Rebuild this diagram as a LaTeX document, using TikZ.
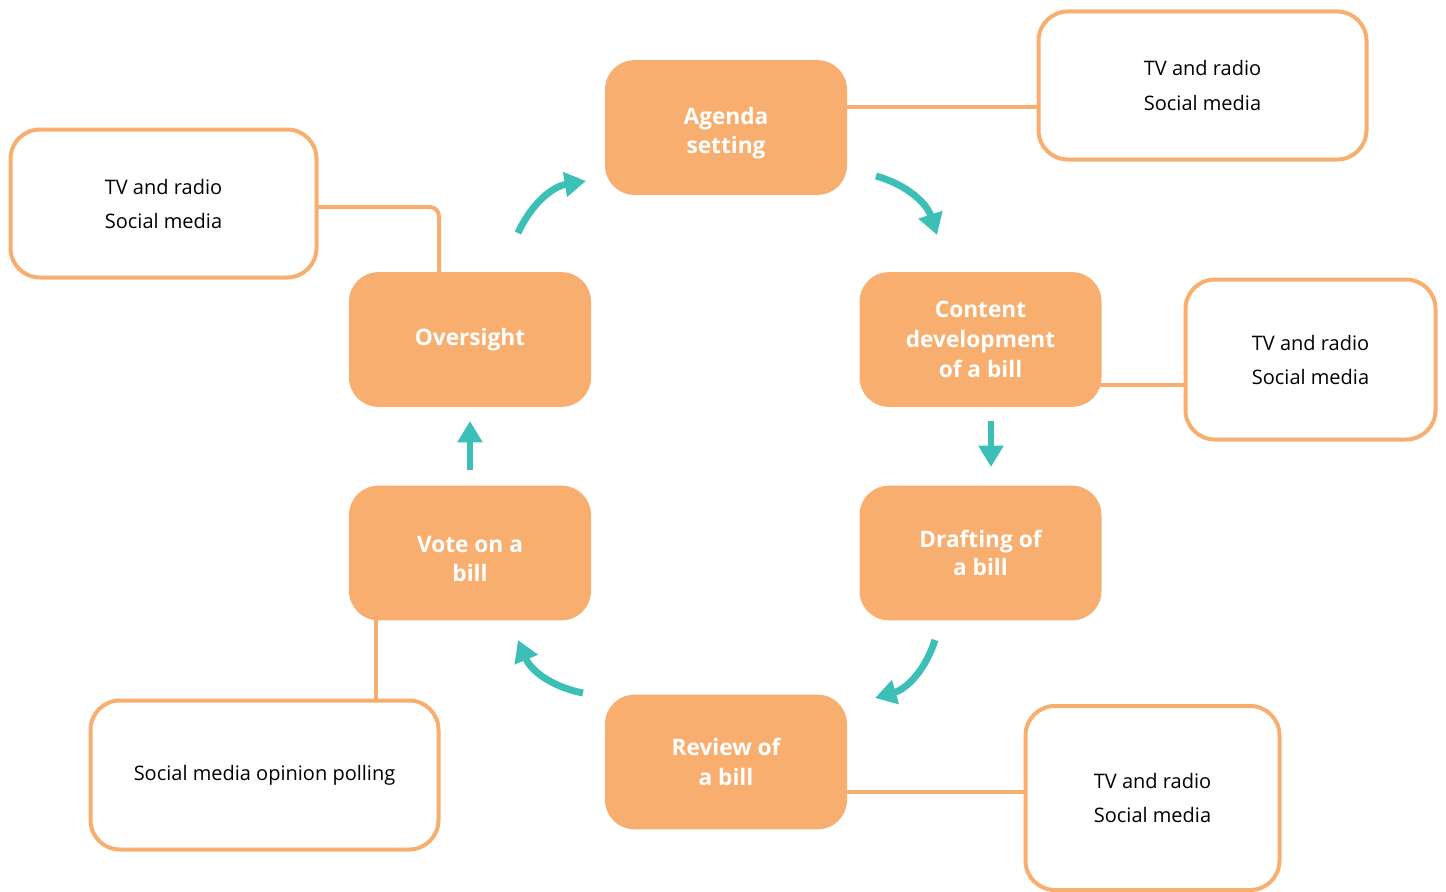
\documentclass[tikz,border=0pt]{standalone}
\usepackage{fontspec}
\setmainfont{Open Sans}
\usetikzlibrary{arrows.meta,backgrounds}
\definecolor{peach}{HTML}{F8AE6F}
\definecolor{teal}{HTML}{3BBFB6}
\tikzset{
  stage/.style={rounded corners=22pt, fill=peach, draw=none, text=white,
    minimum width=181.5pt, minimum height=101pt, align=center,
    font=\fontsize{17}{21.5}\selectfont\bfseries},
  media/.style={rounded corners=22pt, draw=peach, line width=3pt, fill=white,
    align=center, font=\fontsize{15}{25.5}\selectfont},
  link/.style={draw=peach, line width=3pt},
  flow/.style={draw=teal, line width=5.2pt, -{Triangle[width=18pt,length=16pt]}}
}
\begin{document}
\begin{tikzpicture}[x=0.75pt,y=-0.75pt]
\useasboundingbox (0,0) rectangle (1446,892);
% stages
\node[stage, text height=43pt] (agenda) at (726,127.5) {Agenda\\setting};
\node[stage, font=\fontsize{17}{22.5}\selectfont\bfseries] (content) at (980.5,339.5) {Content\\development\\of a bill};
\node[stage] (drafting) at (980.5,553) {Drafting of\\a bill};
\node[stage, font=\fontsize{17}{22.5}\selectfont\bfseries] (review) at (726,762) {Review of\\a bill};
\node[stage, text height=42.5pt] (vote) at (470,553) {Vote on a\\bill};
\node[stage] (oversight) at (470,339.5) {Oversight};
% media boxes
\node[media, minimum width=328pt*0.75, minimum height=148pt*0.75] (tr) at (1202.5,85.5) {TV and radio\\Social media};
\node[media, minimum width=306pt*0.75, minimum height=148pt*0.75] (lb) at (163.5,203.5) {TV and radio\\Social media};
\node[media, minimum width=250pt*0.75, minimum height=160pt*0.75] (rb) at (1310.5,359.5) {TV and radio\\Social media};
\node[media, minimum width=254pt*0.75, minimum height=184pt*0.75] (br) at (1152.5,798) {TV and radio\\Social media};
\node[media, minimum width=348pt*0.75, minimum height=149pt*0.75] (bl) at (264.5,775) {Social media opinion polling};
% helper coordinates
\coordinate (ya) at (0,107);
\coordinate (yc) at (0,385);
\coordinate (yr) at (0,792);
\coordinate (yl) at (0,207);
\coordinate (xo) at (439,0);
\coordinate (xv) at (376,0);
\begin{scope}[on background layer]
\draw[link] (agenda.center |- ya) -- (tr.west |- ya);
\draw[link] (content.center |- yc) -- (rb.west |- yc);
\draw[link] (review.center |- yr) -- (br.west |- yr);
\draw[link, rounded corners=7pt] (lb.center |- yl) -| (oversight.center -| xo);
\draw[link] (vote.center -| xv) -- (bl.north -| xv);
\end{scope}
% flow arrows
\coordinate (a1s) at (518,233); \coordinate (a1e) at (586,181);
\coordinate (a2s) at (876,176); \coordinate (a2e) at (937,235);
\coordinate (a3s) at (935,640); \coordinate (a3e) at (875,698);
\coordinate (a4s) at (583,693); \coordinate (a4e) at (518,640);
\coordinate (a5s) at (470,470); \coordinate (a5e) at (470,421);
\coordinate (a6s) at (991,421); \coordinate (a6e) at (991,467);
\draw[flow] (a1s) to[bend left=28] (a1e);
\draw[flow] (a2s) to[bend left=28] (a2e);
\draw[flow] (a3s) to[bend left=28] (a3e);
\draw[flow] (a4s) to[bend left=28] (a4e);
\draw[flow] (a5s) -- (a5e);
\draw[flow] (a6s) -- (a6e);
\end{tikzpicture}
\end{document}
